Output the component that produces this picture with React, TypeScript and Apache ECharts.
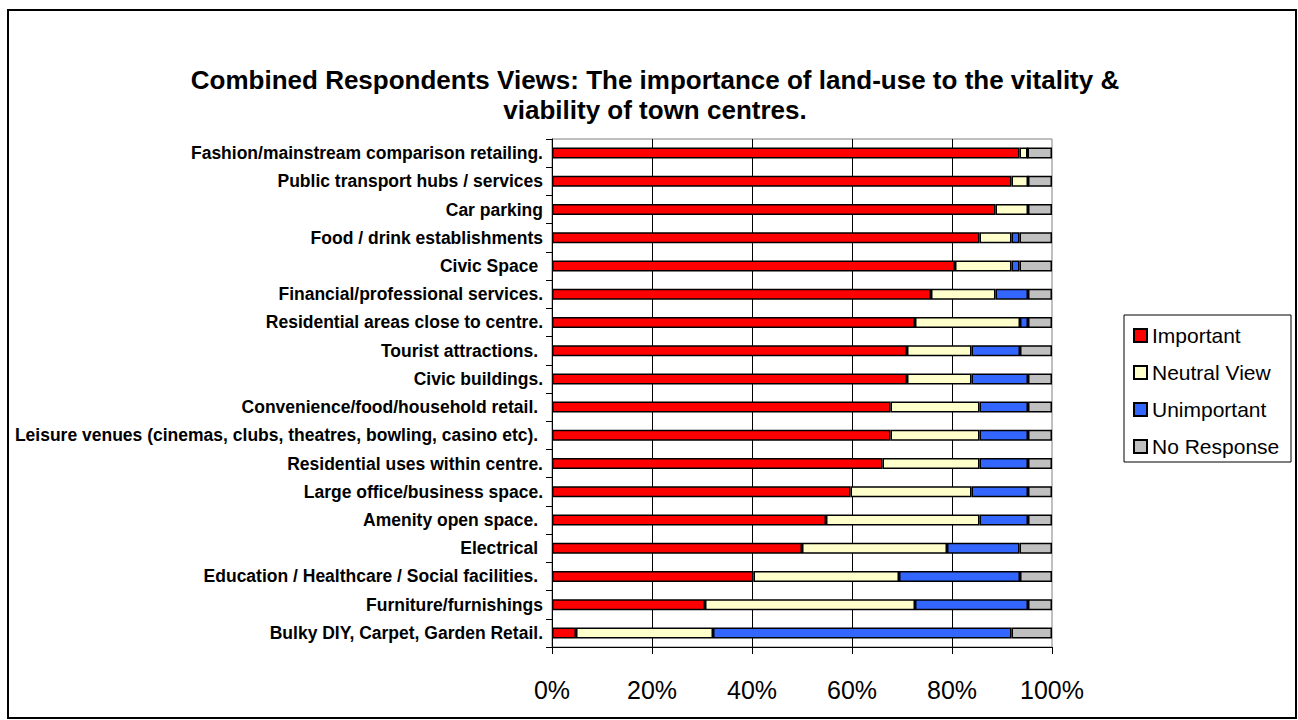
import React, { useEffect, useRef } from 'react';
import * as echarts from 'echarts';

const categories = [
  'Fashion/mainstream comparison retailing.',
  'Public transport hubs / services',
  'Car parking',
  'Food / drink establishments',
  'Civic Space ',
  'Financial/professional services.',
  'Residential areas close to centre.',
  'Tourist attractions. ',
  'Civic buildings.',
  'Convenience/food/household retail. ',
  'Leisure venues (cinemas, clubs, theatres, bowling, casino etc). ',
  'Residential uses within centre.',
  'Large office/business space.',
  'Amenity open space. ',
  'Electrical ',
  'Education / Healthcare / Social facilities. ',
  'Furniture/furnishings',
  'Bulky DIY, Carpet, Garden Retail.',
];

const seriesNames = ['Important', 'Neutral View', 'Unimportant', 'No Response'];

const important = [93.5, 91.9, 88.7, 85.5, 80.6, 75.8, 72.6, 71.0, 71.0, 67.7, 67.7, 66.1, 59.7, 54.8, 50.0, 40.3, 30.6, 4.8];
const neutral = [1.6, 3.3, 6.5, 6.4, 11.3, 12.9, 21.0, 12.9, 12.9, 17.8, 17.8, 19.4, 24.2, 30.7, 29.0, 29.1, 42.0, 27.4];
const unimportant = [0, 0, 0, 1.6, 1.6, 6.5, 1.6, 9.7, 11.3, 9.7, 9.7, 9.7, 11.3, 9.7, 14.5, 24.2, 22.6, 59.7];
const noResponse = [4.9, 4.8, 4.8, 6.5, 6.5, 4.8, 4.8, 6.4, 4.8, 4.8, 4.8, 4.8, 4.8, 4.8, 6.5, 6.4, 4.8, 8.1];

const xTicks = [0, 20, 40, 60, 80, 100];

const titleLines = [
  'Combined Respondents Views: The importance of land-use to the vitality &',
  'viability of town centres.',
];

const colors = ['#FF0000', '#FFFFCC', '#3366FF', '#C0C0C0'];
const FONT = '"Liberation Sans", Arial, Helvetica, sans-serif';

export default function App() {
  const ref = useRef<HTMLDivElement>(null);

  useEffect(() => {
    if (!ref.current) return;
    const chart = echarts.init(ref.current, null, { renderer: 'svg' });
    const values = [important, neutral, unimportant, noResponse];
    chart.setOption({
      animation: false,
      backgroundColor: '#ffffff',
      textStyle: { fontFamily: FONT },
      graphic: [
        {
          type: 'rect',
          z: 0,
          shape: { x: 8, y: 10, width: 1288, height: 708 },
          style: { fill: 'none', stroke: '#000', lineWidth: 2 },
        },
        {
          type: 'text',
          x: 655,
          y: 65,
          style: {
            text: titleLines.join('\n'),
            align: 'center',
            verticalAlign: 'top',
            fontSize: 26,
            fontWeight: 'bold',
            lineHeight: 30,
            fill: '#000',
            fontFamily: FONT,
          },
        },
        {
          type: 'rect',
          z: 0,
          shape: { x: 1124, y: 315, width: 167, height: 147 },
          style: { fill: 'none', stroke: '#000', lineWidth: 1 },
        },
      ],
      legend: {
        data: seriesNames,
        orient: 'vertical',
        left: 1133,
        top: 325,
        padding: 0,
        itemGap: 16,
        itemWidth: 13,
        itemHeight: 13,
        icon: 'rect',
        textStyle: { fontSize: 21, color: '#000', fontFamily: FONT },
      },
      grid: {
        left: 552,
        top: 139,
        width: 500,
        height: 508,
        show: true,
        borderColor: '#808080',
        borderWidth: 1,
        backgroundColor: 'transparent',
      },
      xAxis: {
        type: 'value',
        min: xTicks[0],
        max: xTicks[xTicks.length - 1],
        interval: 20,
        axisLine: { show: true, lineStyle: { color: '#000', width: 1 } },
        axisTick: { show: true, length: 7, lineStyle: { color: '#000' } },
        axisLabel: {
          formatter: '{value}%',
          fontSize: 25,
          color: '#000',
          margin: 30,
          fontFamily: FONT,
        },
        splitLine: { show: true, showMaxLine: false, lineStyle: { color: '#000', width: 1 } },
      },
      yAxis: {
        type: 'category',
        data: categories,
        inverse: true,
        axisLine: { show: true, lineStyle: { color: '#000', width: 1 } },
        axisTick: { show: true, length: 6, lineStyle: { color: '#000' } },
        axisLabel: {
          fontSize: 17.5,
          fontWeight: 'bold',
          color: '#000',
          margin: 9,
          fontFamily: FONT,
        },
        splitLine: { show: false },
      },
      series: seriesNames.map((name, i) => ({
        name,
        type: 'bar',
        stack: 'total',
        barWidth: 11,
        data: values[i],
        itemStyle: { color: colors[i], borderColor: '#000', borderWidth: 1.5 },
        emphasis: { disabled: true },
      })),
    });
    return () => chart.dispose();
  }, []);

  return (
    <div
      ref={ref}
      style={{ position: 'absolute', left: 0, top: 0, width: 1298, height: 720 }}
    />
  );
}
